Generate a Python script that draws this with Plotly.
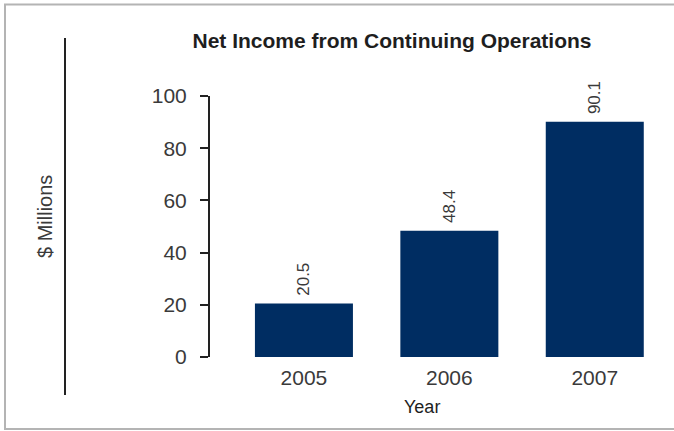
import plotly.graph_objects as go

years = ["2005", "2006", "2007"]
net_income = [20.5, 48.4, 90.1]
value_labels = ["20.5", "48.4", "90.1"]
y_ticks = [0, 20, 40, 60, 80, 100]

W, H = 674, 431
L, R, T, B = 210, 9, 96, 74
pw = W - L - R
ph = H - T - B

def px(x):
    return (x - L) / pw

def py(y):
    return (H - B - y) / ph

FONT = "Liberation Sans, Arial, sans-serif"
TXT = "#3a3a3a"

fig = go.Figure()
fig.add_trace(go.Bar(
    x=years, y=net_income,
    marker=dict(color="#002d62", line=dict(width=0)),
    text=["\u00a0" + s for s in value_labels], textposition="outside", textangle=-90,
    textfont=dict(family=FONT, size=17, color=TXT),
    cliponaxis=False, width=0.674,
))

fig.update_layout(
    width=W, height=H,
    margin=dict(l=L, r=R, t=T, b=B),
    paper_bgcolor="white", plot_bgcolor="white",
    showlegend=False,
    font=dict(family=FONT, color=TXT),
    title=dict(text="<b>Net Income from Continuing Operations</b>",
               x=392 / W, xanchor="center", y=1 - 41 / H, yanchor="middle",
               yref="container", xref="container",
               font=dict(size=21, color="#1e1e1e")),
    xaxis=dict(type="category", range=[-0.646, 2.483], showline=False, ticks="",
               showgrid=False, zeroline=False,
               tickfont=dict(size=21, color=TXT), ticklabelstandoff=6),
    yaxis=dict(range=[0, 100], tickvals=y_ticks, showline=True, linecolor="#222222",
               linewidth=2, ticks="outside", ticklen=8, tickwidth=2, tickcolor="#222222",
               showgrid=False, zeroline=False,
               tickfont=dict(size=21, color=TXT), ticklabelstandoff=9),
    shapes=[
        dict(type="line", xref="paper", yref="paper",
             x0=px(65), x1=px(65), y0=py(38), y1=py(395),
             line=dict(color="#222222", width=2)),
        dict(type="rect", xref="paper", yref="paper",
             x0=px(5), x1=px(690), y0=py(4.5), y1=py(429),
             line=dict(color="#b4b4b4", width=2), layer="below"),
    ],
    annotations=[
        dict(text="$ Millions", xref="paper", yref="paper",
             x=px(45), y=py(217), textangle=-90, showarrow=False,
             xanchor="center", yanchor="middle",
             font=dict(size=20, color=TXT)),
        dict(text="Year", xref="paper", yref="paper",
             x=px(422), y=py(407), showarrow=False,
             xanchor="center", yanchor="middle",
             font=dict(size=18, color="#1e1e1e")),
    ],
)

fig.write_html("out.html")
